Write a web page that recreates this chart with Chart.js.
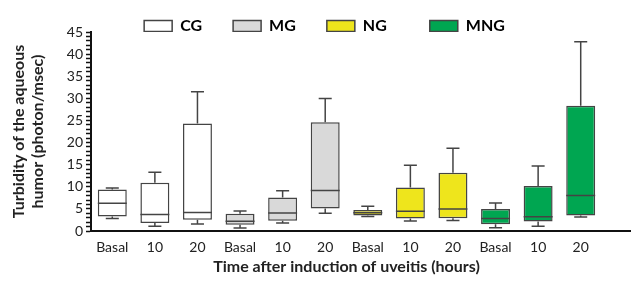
<!DOCTYPE html>
<html><head><meta charset="utf-8">
<script src="https://cdn.jsdelivr.net/npm/chart.js@4/dist/chart.umd.min.js"></script>
<style>html,body{margin:0;padding:0;background:#fff}#wrap{width:631px;height:282px;position:relative}</style>
</head><body><div id="wrap"><canvas id="c"></canvas></div>
<script>
const categories = ['Basal','10','20','Basal','10','20','Basal','10','20','Basal','10','20'];
const groups = ['CG','MG','NG','MNG'];
const groupColors = ['#ffffff','#d9d9d9','#eee51c','#00a651'];
const mins    = [2.8, 1.1, 1.6, 0.7, 1.8, 4.0, 3.3, 2.25, 2.4, 0.75, 1.1, 3.15];
const q1s     = [3.3, 1.8, 2.55, 1.4, 2.3, 5.1, 3.5, 2.8, 2.9, 1.55, 2.15, 3.5];
const medians = [6.3, 3.75, 4.2, 2.2, 4.05, 9.15, 4.1, 4.45, 4.95, 2.8, 3.2, 8.0];
const q3s     = [9.4, 10.9, 24.3, 3.9, 7.55, 24.6, 4.75, 9.85, 13.2, 4.95, 10.15, 28.35];
const maxs    = [9.75, 13.3, 31.5, 4.5, 9.1, 29.95, 5.6, 14.85, 18.7, 6.35, 14.7, 42.8];
const yMin = 0, yMax = 45, yMajorStep = 5;

const FONT = 'Lato, "Open Sans", sans-serif';
const EDGE = '#444';

const datasets = groups.map((g, gi) => ({
  label: g,
  data: categories.map((_, i) => Math.floor(i / 3) === gi ? [q1s[i], q3s[i]] : null),
  backgroundColor: groupColors[gi],
  borderColor: EDGE,
  borderWidth: 1.5,
  borderSkipped: false,
  skipNull: true,
  barPercentage: 0.68,
  categoryPercentage: 1
}));

const whiskerPlugin = {
  id: 'whiskers',
  afterDatasetsDraw(chart) {
    const ctx = chart.ctx, ys = chart.scales.y;
    ctx.save();
    ctx.strokeStyle = EDGE;
    ctx.lineWidth = 1.5;
    chart.data.datasets.forEach((ds, d) => {
      const meta = chart.getDatasetMeta(d);
      meta.data.forEach((el, i) => {
        if (ds.data[i] == null) return;
        const x = el.x, w = el.width, cap = w * 0.45;
        const yMn = ys.getPixelForValue(mins[i]), yQ1 = ys.getPixelForValue(q1s[i]);
        const yMd = ys.getPixelForValue(medians[i]), yQ3 = ys.getPixelForValue(q3s[i]);
        const yMx = ys.getPixelForValue(maxs[i]);
        ctx.beginPath();
        ctx.moveTo(x, yQ3); ctx.lineTo(x, yMx);
        ctx.moveTo(x - cap / 2, yMx); ctx.lineTo(x + cap / 2, yMx);
        ctx.moveTo(x, yQ1); ctx.lineTo(x, yMn);
        ctx.moveTo(x - cap / 2, yMn); ctx.lineTo(x + cap / 2, yMn);
        ctx.moveTo(x - w / 2, yMd); ctx.lineTo(x + w / 2, yMd);
        ctx.stroke();
      });
    });
    ctx.restore();
  },
  afterDraw(chart) {
    const ctx = chart.ctx, a = chart.chartArea;
    ctx.save();
    ctx.strokeStyle = '#111';
    ctx.lineWidth = 2;
    ctx.beginPath();
    ctx.moveTo(a.right - 1, a.bottom);
    ctx.lineTo(chart.width, a.bottom);
    ctx.stroke();
    ctx.restore();
  }
};

new Chart(document.getElementById('c'), {
  type: 'bar',
  data: { labels: categories, datasets },
  plugins: [whiskerPlugin],
  options: {
    responsive: true,
    maintainAspectRatio: false,
    animation: false,
    layout: { padding: { top: -13, left: 18, right: 0, bottom: 0 } },
    plugins: {
      tooltip: { enabled: false },
      legend: {
        position: 'top',
        maxHeight: 45,
        labels: {
          boxWidth: 28, boxHeight: 11, padding: 31,
          color: '#222',
          font: { family: FONT, size: 16, weight: 'bold' },
          generateLabels(chart) {
            return groups.map((g, gi) => ({
              text: g === 'NG' ? g + '\u2003' : g,
              fillStyle: groupColors[gi],
              strokeStyle: EDGE,
              lineWidth: 1.5,
              datasetIndex: gi
            }));
          }
        }
      }
    },
    scales: {
      x: {
        grid: { display: false, drawOnChartArea: false, drawTicks: true, tickLength: 6, tickColor: '#111', tickWidth: 2 },
        border: { display: true, color: '#111', width: 2 },
        ticks: { color: '#222', font: { family: FONT, size: 14 }, padding: 2, maxRotation: 0, autoSkip: false },
        title: { display: true, text: 'Time after induction of uveitis (hours)', color: '#222',
                 font: { family: FONT, size: 16, weight: 'bold' }, padding: { top: 0, bottom: 6 } },
        afterFit(s) { s.height = 51; }
      },
      y: {
        min: yMin, max: yMax,
        grid: { drawOnChartArea: false, drawTicks: true, tickLength: 5, tickColor: '#111', tickWidth: 1.5 },
        border: { display: true, color: '#111', width: 2 },
        ticks: {
          stepSize: 1, autoSkip: false, padding: 3, color: '#222',
          font: { family: FONT, size: 14 },
          callback: v => (v % yMajorStep === 0 ? String(v) : '')
        },
        title: { display: true, text: ['Turbidity of the aqueous', 'humor (photon/msec)'], color: '#222',
                 font: { family: FONT, size: 16, weight: 'bold' }, padding: { top: -9, bottom: 0 } },
        afterFit(s) { s.width = 73; }
      },
      yR: {
        position: 'right', display: true,
        grid: { display: false }, border: { display: false }, ticks: { display: false },
        afterFit(s) { s.width = 29; }
      }
    }
  }
});
</script></body></html>
